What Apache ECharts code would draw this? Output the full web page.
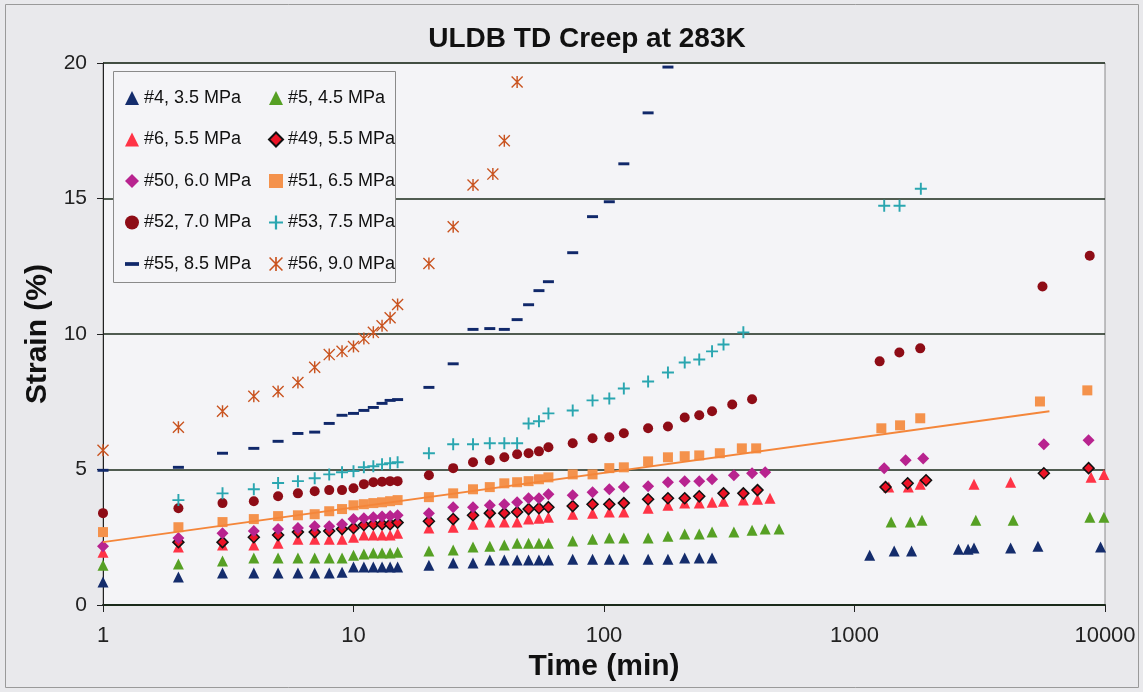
<!DOCTYPE html>
<html>
<head>
<meta charset="utf-8">
<title>ULDB TD Creep at 283K</title>
<script src="https://cdn.jsdelivr.net/npm/echarts@6/dist/echarts.min.js"></script>
<style>
  body { margin: 0; background: #e9e9ec; }
  #chart { width: 1143px; height: 692px; }
</style>
</head>
<body>
<div id="chart"></div>
<script>
// [time (min), strain (%)] for each specimen
var creep4 = [[1,0.85],[2,1.03],[3,1.18],[4,1.18],[5,1.18],[6,1.18],[7,1.18],[8,1.18],[9,1.21],[10,1.4],[11,1.4],[12,1.4],[13,1.4],[14,1.4],[15,1.4],[20,1.47],[25,1.55],[30,1.55],[35,1.66],[40,1.66],[45,1.66],[50,1.66],[55,1.66],[60,1.66],[75,1.69],[90,1.69],[105,1.69],[120,1.69],[150,1.69],[180,1.69],[210,1.73],[240,1.73],[270,1.73],[1150,1.84],[1440,1.99],[1690,1.99],[2600,2.06],[2840,2.06],[3000,2.1],[4200,2.1],[5400,2.17],[9600,2.14]];
var creep5 = [[1,1.47],[2,1.51],[3,1.62],[4,1.73],[5,1.73],[6,1.73],[7,1.73],[8,1.73],[9,1.73],[10,1.84],[11,1.88],[12,1.92],[13,1.92],[14,1.92],[15,1.95],[20,1.99],[25,2.03],[30,2.14],[35,2.17],[40,2.21],[45,2.28],[50,2.28],[55,2.28],[60,2.28],[75,2.36],[90,2.43],[105,2.47],[120,2.47],[150,2.47],[180,2.54],[210,2.62],[240,2.62],[270,2.69],[330,2.69],[390,2.76],[440,2.8],[500,2.8],[1400,3.06],[1670,3.06],[1860,3.13],[3050,3.13],[4300,3.13],[8700,3.24],[9900,3.24]];
var creep6 = [[1,1.95],[2,2.14],[3,2.21],[4,2.21],[5,2.28],[6,2.43],[7,2.43],[8,2.43],[9,2.43],[10,2.5],[11,2.58],[12,2.58],[13,2.58],[14,2.58],[15,2.65],[20,2.84],[25,2.87],[30,2.98],[35,3.06],[40,3.06],[45,3.06],[50,3.17],[55,3.2],[60,3.24],[75,3.35],[90,3.39],[105,3.43],[120,3.43],[150,3.57],[180,3.68],[210,3.76],[240,3.76],[270,3.79],[300,3.83],[360,3.87],[410,3.9],[460,3.94],[1370,4.35],[1640,4.35],[1830,4.46],[3000,4.46],[4200,4.53],[8800,4.71],[9900,4.82]];
var creep49 = [[2,2.32],[3,2.32],[4,2.5],[5,2.58],[6,2.69],[7,2.69],[8,2.73],[9,2.8],[10,2.84],[11,2.95],[12,2.98],[13,2.98],[14,2.98],[15,3.04],[20,3.09],[25,3.17],[30,3.31],[35,3.39],[40,3.39],[45,3.43],[50,3.54],[55,3.57],[60,3.61],[75,3.65],[90,3.72],[105,3.72],[120,3.76],[150,3.9],[180,3.94],[210,3.94],[240,4.01],[300,4.12],[360,4.12],[410,4.24],[1330,4.35],[1630,4.49],[1930,4.6],[5700,4.86],[8600,5.05]];
var creep50 = [[1,2.17],[2,2.47],[3,2.65],[4,2.73],[5,2.8],[6,2.84],[7,2.91],[8,2.91],[9,2.98],[10,3.17],[11,3.2],[12,3.24],[13,3.27],[14,3.28],[15,3.31],[20,3.39],[25,3.61],[30,3.61],[35,3.68],[40,3.72],[45,3.79],[50,3.94],[55,3.94],[60,4.09],[75,4.05],[90,4.16],[105,4.27],[120,4.35],[150,4.38],[180,4.53],[210,4.57],[240,4.57],[270,4.64],[330,4.79],[390,4.86],[440,4.9],[1314,5.05],[1600,5.34],[1880,5.41],[5700,5.93],[8600,6.08]];
var creep51 = [[1,2.69],[2,2.87],[3,3.06],[4,3.17],[5,3.28],[6,3.31],[7,3.35],[8,3.46],[9,3.54],[10,3.68],[11,3.72],[12,3.76],[13,3.79],[14,3.83],[15,3.87],[20,3.98],[25,4.12],[30,4.27],[35,4.35],[40,4.49],[45,4.53],[50,4.57],[55,4.64],[60,4.71],[75,4.82],[90,4.82],[105,5.05],[120,5.08],[150,5.3],[180,5.45],[210,5.49],[240,5.52],[290,5.6],[355,5.78],[405,5.78],[1280,6.52],[1520,6.63],[1830,6.89],[5500,7.51],[8500,7.92]];
var creep52 = [[1,3.39],[2,3.57],[3,3.76],[4,3.83],[5,4.01],[6,4.12],[7,4.2],[8,4.24],[9,4.24],[10,4.31],[11,4.46],[12,4.53],[13,4.55],[14,4.57],[15,4.57],[20,4.79],[25,5.05],[30,5.27],[35,5.34],[40,5.45],[45,5.56],[50,5.6],[55,5.67],[60,5.82],[75,5.97],[90,6.15],[105,6.19],[120,6.34],[150,6.52],[180,6.59],[210,6.92],[240,7.0],[270,7.15],[325,7.4],[390,7.59],[1260,8.99],[1510,9.32],[1830,9.47],[5630,11.75],[8690,12.89]];
var creep53 = [[2,3.87],[3,4.12],[4,4.27],[5,4.5],[6,4.57],[7,4.68],[8,4.82],[9,4.9],[10,4.94],[11,5.08],[12,5.12],[13,5.19],[14,5.23],[15,5.27],[20,5.6],[25,5.93],[30,5.93],[35,5.97],[40,5.97],[45,5.97],[50,6.7],[55,6.78],[60,7.07],[75,7.18],[90,7.55],[105,7.62],[120,7.99],[150,8.25],[180,8.58],[210,8.95],[240,9.06],[270,9.36],[300,9.61],[360,10.06],[1314,14.73],[1513,14.73],[1840,15.36]];
var creep55 = [[1,4.97],[2,5.08],[3,5.6],[4,5.78],[5,6.04],[6,6.33],[7,6.38],[8,6.7],[9,7.0],[10,7.07],[11,7.18],[12,7.29],[13,7.44],[14,7.55],[15,7.58],[20,8.03],[25,8.9],[30,10.17],[35,10.2],[40,10.17],[45,10.53],[50,11.08],[55,11.6],[60,11.93],[75,13.0],[90,14.33],[105,14.88],[120,16.28],[150,18.16],[180,19.85]];
var creep56 = [[1,5.71],[2,6.56],[3,7.15],[4,7.7],[5,7.88],[6,8.21],[7,8.77],[8,9.24],[9,9.36],[10,9.54],[11,9.83],[12,10.06],[13,10.3],[14,10.6],[15,11.09],[20,12.6],[25,13.96],[30,15.5],[36,15.9],[40,17.13],[45,19.3]];
// trend line for #51, end points
var trend51 = [[1,2.32],[6000,7.15]];

var names = ["#4, 3.5 MPa", "#5, 4.5 MPa", "#6, 5.5 MPa", "#49, 5.5 MPa", "#50, 6.0 MPa",
  "#51, 6.5 MPa", "#52, 7.0 MPa", "#53, 7.5 MPa", "#55, 8.5 MPa", "#56, 9.0 MPa"];
var yTicks = [0, 5, 10, 15, 20];

var font = "Liberation Sans";
var plusPath = "path://M4.2,0H5.8V4.2H10V5.8H5.8V10H4.2V5.8H0V4.2H4.2Z";
var starPath = "path://M4.4,0H5.6V10H4.4Z M0,0.8L0.8,0L10,9.2L9.2,10Z M9.2,0L10,0.8L0.8,10L0,9.2Z";
var dashPath = "path://M0,0M12,12M0,4.4H12V7.6H0Z";

function dots(name, data, symbol, size, color, border) {
  var s = {
    name: name,
    type: "scatter",
    data: data,
    symbol: symbol,
    symbolSize: size,
    itemStyle: { color: color, opacity: 1 },
  };
  if (border) {
    s.itemStyle.borderColor = border;
    s.itemStyle.borderWidth = 1.5;
  }
  return s;
}

var myChart = echarts.init(document.getElementById("chart"));
var option = {
  backgroundColor: "#e9e9ec",
  textStyle: { fontFamily: font },
  title: {
    text: "ULDB TD Creep at 283K",
    left: 582,
    top: 20,
    textAlign: "center",
    textStyle: { fontFamily: font, fontSize: 28, fontWeight: "bold", color: "#111" },
  },
  graphic: [
    {
      type: "rect",
      z: 0,
      shape: { x: 5.5, y: 4.5, width: 1133, height: 683 },
      style: { fill: null, stroke: "#9a9a9a", lineWidth: 1 },
    },
    {
      // legend frame
      type: "rect",
      z: 3,
      shape: { x: 113.5, y: 71.5, width: 282, height: 211 },
      style: { fill: "#f4f4f7", stroke: "#8a8a8a", lineWidth: 1 },
    },
  ],
  legend: [
    {
      orient: "vertical",
      left: 120,
      top: 84,
      itemWidth: 14,
      itemHeight: 14,
      itemGap: 23.5,
      textStyle: { fontFamily: font, fontSize: 18, color: "#111", lineHeight: 18 },
      data: [names[0], names[2], names[4], names[6], { name: names[8], icon: dashPath }],
    },
    {
      orient: "vertical",
      left: 263,
      top: 84,
      itemWidth: 14,
      itemHeight: 14,
      itemGap: 23.5,
      textStyle: { fontFamily: font, fontSize: 18, color: "#111", lineHeight: 18 },
      data: [names[1], names[3], names[5], names[7], names[9]],
    },
  ],
  grid: {
    left: 103,
    right: 38,
    top: 63,
    bottom: 87,
    show: true,
    backgroundColor: "#f4f4f7",
    borderColor: "#8a8a8a",
    borderWidth: 1,
  },
  xAxis: {
    type: "log",
    logBase: 10,
    min: 1,
    max: 10000,
    name: "Time (min)",
    nameLocation: "middle",
    nameGap: 44,
    nameTextStyle: { fontFamily: font, fontSize: 30, fontWeight: "bold", color: "#111" },
    axisLine: { lineStyle: { color: "#1a2a1a", width: 2 } },
    axisTick: { length: 7, lineStyle: { color: "#222" } },
    minorTick: { show: false },
    splitLine: { show: false },
    axisLabel: {
      fontFamily: font,
      fontSize: 22,
      color: "#222",
      margin: 20,
      formatter: function (v) {
        return String(Math.round(v));
      },
    },
  },
  yAxis: {
    type: "value",
    min: yTicks[0],
    max: yTicks[yTicks.length - 1],
    interval: 5,
    name: "Strain (%)",
    nameLocation: "middle",
    nameGap: 50,
    nameTextStyle: { fontFamily: font, fontSize: 30, fontWeight: "bold", color: "#111" },
    axisLine: { show: true, lineStyle: { color: "#222", width: 1 } },
    axisTick: { show: true, length: 6, lineStyle: { color: "#222" } },
    splitLine: { lineStyle: { color: "#1a2a1a", width: 1.5 } },
    axisLabel: { fontFamily: font, fontSize: 21, color: "#222", margin: 16 },
  },
  series: [
    {
      name: "trend",
      type: "line",
      data: trend51,
      showSymbol: false,
      silent: true,
      lineStyle: { color: "#f4863a", width: 2 },
    },
    dots(names[0], creep4, "triangle", 11, "#142c6c"),
    dots(names[1], creep5, "triangle", 11, "#56a024"),
    dots(names[2], creep6, "triangle", 11, "#ff3346"),
    dots(names[3], creep49, "diamond", 11, "#ec1326", "#111"),
    dots(names[4], creep50, "diamond", 12, "#b8238f"),
    dots(names[5], creep51, "rect", 10, "#f4924c"),
    dots(names[6], creep52, "circle", 10, "#8e0c16"),
    dots(names[7], creep53, plusPath, 12, "#2aa6b0"),
    dots(names[8], creep55, dashPath, 11, "#10286a"),
    dots(names[9], creep56, starPath, 12, "#c9531f"),
  ],
};

option && myChart.setOption(option);
</script>
</body>
</html>
